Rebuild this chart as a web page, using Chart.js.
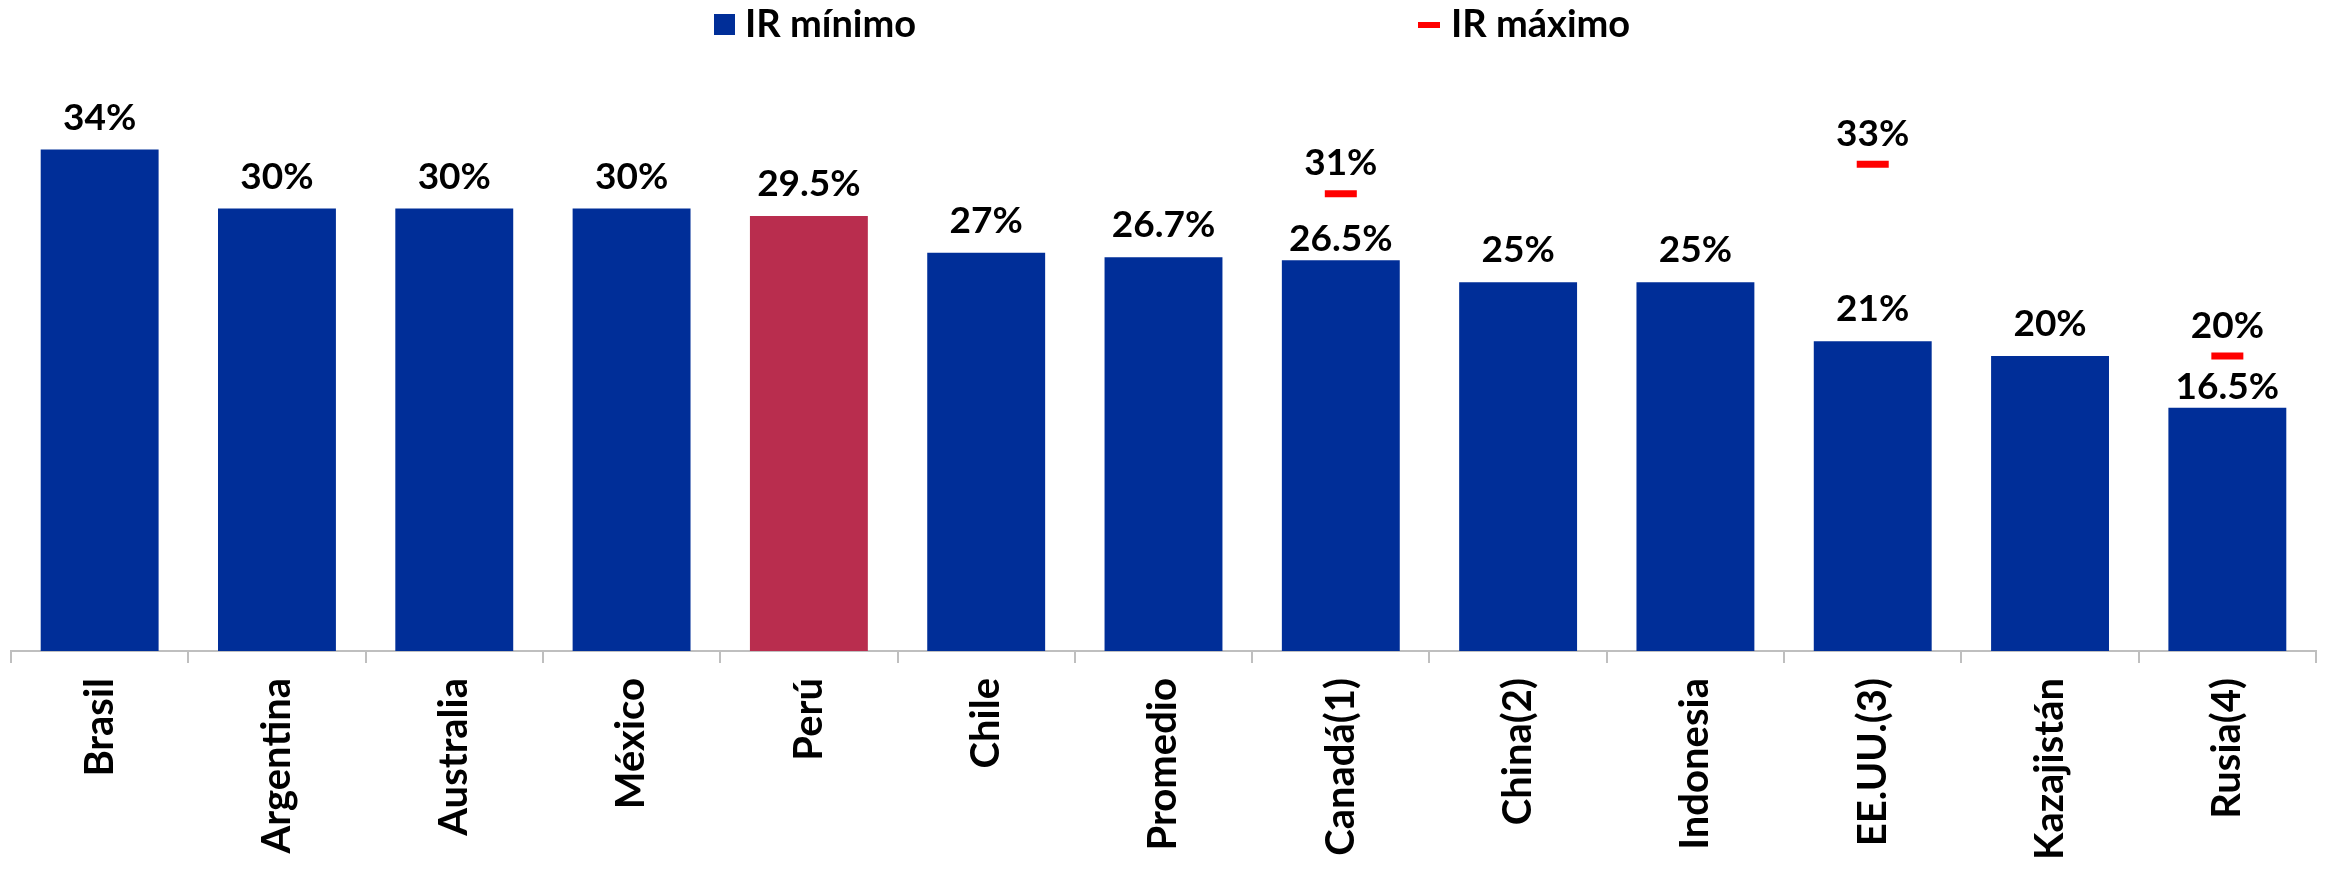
<!DOCTYPE html>
<html>
<head>
<meta charset="utf-8">
<script src="https://cdn.jsdelivr.net/npm/chart.js"></script>
<style>
  html, body { margin: 0; padding: 0; background: #fff; }
  #wrap { width: 2325px; height: 875px; }
</style>
</head>
<body>
<div id="wrap"><canvas id="irChart" width="2325" height="875"></canvas></div>
<script>
const countries = ['Brasil', 'Argentina', 'Australia', 'México', 'Perú', 'Chile', 'Promedio',
  'Canadá(1)', 'China(2)', 'Indonesia', 'EE.UU.(3)', 'Kazajistán', 'Rusia(4)'];
const irMinimo = [34, 30, 30, 30, 29.5, 27, 26.7, 26.5, 25, 25, 21, 20, 16.5];
const irMaximo = [null, null, null, null, null, null, null, 31, null, null, 33, null, 20];
const highlight = 'Perú';

const BLUE = '#002E98';
const PERU = '#B92D4E';
const RED = '#FF0000';
const FONT = 'Lato, "Open Sans", sans-serif';

const barColors = countries.map((c) => (c === highlight ? PERU : BLUE));

// labels over the bars and over the red markers
const valueLabels = {
  id: 'valueLabels',
  afterDatasetsDraw(chart) {
    const { ctx } = chart;
    ctx.save();
    ctx.font = `bold 37px ${FONT}`;
    ctx.fillStyle = '#000';
    ctx.textAlign = 'center';
    ctx.textBaseline = 'alphabetic';

    const bars = chart.getDatasetMeta(0).data;
    bars.forEach((bar, i) => {
      const mx = irMaximo[i];
      // tuck the label in closer when a max marker sits just above
      const gap = mx != null && mx - irMinimo[i] < 5 ? 9 : 20;
      ctx.fillText(`${irMinimo[i]}%`, bar.x, bar.y - gap);
    });

    const pts = chart.getDatasetMeta(1).data;
    pts.forEach((pt, i) => {
      if (irMaximo[i] == null) return;
      ctx.fillText(`${irMaximo[i]}%`, pt.x, pt.y - 3.5 - 15);
    });
    ctx.restore();
  },
};

const topLegend = {
  id: 'topLegend',
  afterDraw(chart) {
    const { ctx } = chart;
    ctx.save();
    ctx.font = `bold 38px ${FONT}`;
    ctx.fillStyle = BLUE;
    ctx.fillRect(714, 14, 21, 21);
    ctx.fillStyle = RED;
    ctx.fillRect(1418, 22, 22, 6);
    ctx.fillStyle = '#000';
    ctx.textAlign = 'left';
    ctx.textBaseline = 'alphabetic';
    ctx.fillText(chart.data.datasets[0].label, 745, 37);
    ctx.fillText(chart.data.datasets[1].label, 1451, 37);
    ctx.restore();
  },
};

new Chart(document.getElementById('irChart'), {
  type: 'bar',
  data: {
    labels: countries,
    datasets: [
      {
        type: 'bar',
        label: 'IR mínimo',
        data: irMinimo,
        backgroundColor: barColors,
        borderWidth: 0,
        categoryPercentage: 1,
        barPercentage: 0.665,
        order: 2,
      },
      {
        type: 'line',
        label: 'IR máximo',
        data: irMaximo,
        showLine: false,
        pointStyle: 'line',
        pointRadius: 16,
        pointHoverRadius: 16,
        pointBorderWidth: 7,
        pointHoverBorderWidth: 7,
        borderColor: RED,
        pointBorderColor: RED,
        backgroundColor: RED,
        order: 1,
      },
    ],
  },
  options: {
    responsive: false,
    animation: false,
    events: [],
    layout: { autoPadding: false, padding: { top: 61, left: 11, right: 9, bottom: 0 } },
    plugins: {
      legend: { display: false },
      tooltip: { enabled: false },
    },
    scales: {
      x: {
        offset: true,
        grid: {
          display: true,
          drawOnChartArea: false,
          offset: true,
          color: '#BFBFBF',
          lineWidth: 2,
          tickLength: 12,
        },
        border: { color: '#BFBFBF', width: 2 },
        ticks: {
          autoSkip: false,
          minRotation: 90,
          maxRotation: 90,
          padding: 15,
          color: '#000',
          font: { family: FONT, size: 40, weight: 'bold' },
        },
        afterFit(scale) {
          scale.height = 224;
          scale.paddingLeft = 0;
          scale.paddingRight = 0;
        },
      },
      y: {
        display: false,
        min: 0,
        max: 40,
      },
    },
  },
  plugins: [valueLabels, topLegend],
});
</script>
</body>
</html>
